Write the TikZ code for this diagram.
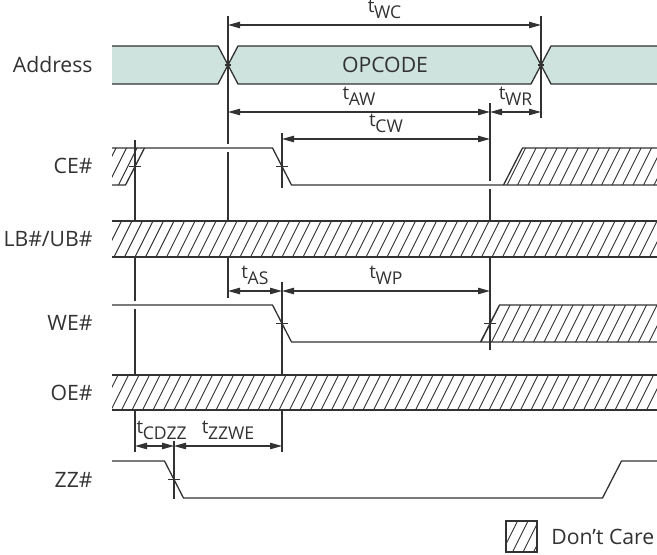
\documentclass[tikz,border=0pt]{standalone}
\usepackage{fontspec}
\setmainfont{Open Sans}
\usepackage{tikz}
\usetikzlibrary{arrows.meta}
\definecolor{busfill}{RGB}{206,226,222}
\definecolor{ink}{RGB}{50,50,50}
\newcommand{\tsub}[1]{t\kern-0.2pt\raisebox{-0.55ex}{\fontsize{8.8}{9}\selectfont #1}}
\newcommand{\hatchin}[1]{%
  \begin{scope}
    \clip #1;
    \foreach \x in {-300,-289.5,...,660} \draw[hatchline] (\x,560) -- ++(280,-560);
  \end{scope}}

\begin{document}
\begin{tikzpicture}[x=0.5pt, y=-0.5pt,
  sig/.style={ink, line width=0.65pt},
  hatchline/.style={ink, line width=0.45pt},
  marker/.style={ink, line width=0.55pt},
  dim/.style={ink, line width=0.55pt, {Triangle[length=6pt,width=3.2pt]}-{Triangle[length=6pt,width=3.2pt]}},
  siglabel/.style={anchor=east, font=\fontsize{10.6}{12}\selectfont, text=ink, inner sep=0pt},
  tlabel/.style={font=\fontsize{9.4}{10}\selectfont, text=ink, inner sep=0pt}]
  \useasboundingbox (0,0) rectangle (657,555);

  % signal names
  \node[siglabel] (addrLbl) at (93,65) {Address};
  \node[siglabel] (ceLbl) at (93,166) {CE\#};
  \node[siglabel] (lbLbl) at (93,239) {LB\#/UB\#};
  \node[siglabel] (weLbl) at (93,323) {WE\#};
  \node[siglabel] (oeLbl) at (93,393) {OE\#};
  \node[siglabel] (zzLbl) at (93,480) {ZZ\#};

  % time markers (split where a signal crosses)
  \draw[marker] (135,140) -- (135,221) (135,257) -- (135,301) (135,309) -- (135,375) (135,410) -- (135,452);
  \draw[marker] (228,16) -- (228,144) (228,152) -- (228,221) (228,257) -- (228,298);
  \draw[marker] (282,133) -- (282,188) (282,282) -- (282,375) (282,410) -- (282,452);
  \draw[marker] (490,103) -- (490,181) (490,189) -- (490,221) (490,257) -- (490,350);
  \draw[marker] (541,16) -- (541,118);
  \draw[marker] (174,441) -- (174,499);

  % Address bus
  \fill[busfill] (112,46) -- (218,46) -- (228,65) -- (218,84) -- (112,84) -- cycle;
  \draw[sig] (112,46) -- (218,46) -- (228,65) -- (218,84) -- (112,84);
  \filldraw[sig, fill=busfill] (238,46) -- (531,46) -- (541,65) -- (531,84) -- (238,84) -- (228,65) -- cycle;
  \fill[busfill] (657,46) -- (551,46) -- (541,65) -- (551,84) -- (657,84) -- cycle;
  \draw[sig] (657,46) -- (551,46) -- (541,65) -- (551,84) -- (657,84);
  \node[font=\fontsize{10.6}{12}\selectfont, text=ink] (opcode) at (385,65) {OPCODE};

  % CE#
  \hatchin{(112,148) -- (144.5,148) -- (125.5,185) -- (112,185) -- cycle}
  \hatchin{(503.5,185) -- (522.5,148) -- (657,148) -- (657,185) -- cycle}
  \draw[sig] (112,185) -- (125.5,185) -- (144.5,148);
  \draw[sig] (112,148) -- (272.5,148) -- (291.5,185) -- (657,185);
  \draw[sig] (503.5,185) -- (522.5,148) -- (657,148);

  % LB#/UB#
  \fill[white] (112,221) rectangle (657,257);
  \hatchin{(112,221) rectangle (657,257)}
  \draw[sig] (112,221) -- (657,221) (112,257) -- (657,257);

  % WE#
  \hatchin{(480.5,342) -- (499.5,305) -- (657,305) -- (657,342) -- cycle}
  \draw[sig] (112,305) -- (272.5,305) -- (291.5,342) -- (657,342);
  \draw[sig] (480.5,342) -- (499.5,305) -- (657,305);

  % OE#
  \fill[white] (112,375) rectangle (657,410);
  \hatchin{(112,375) rectangle (657,410)}
  \draw[sig] (112,375) -- (657,375) (112,410) -- (657,410);

  % ZZ#
  \draw[sig] (112,461) -- (164.5,461) -- (183.5,498) -- (602.5,498) -- (621.5,461) -- (657,461);

  % crossing ticks
  \foreach \tx/\ty in {135/166.5, 282/166.5, 282/323.5, 490/323.5, 174/479.5}
    \draw[marker] (\tx-6,\ty) -- (\tx+6,\ty);
  \foreach \tx in {228, 541}
    \draw[marker] (\tx-3,65) -- (\tx+3,65);

  % timing parameters
  \coordinate (wcA) at (228,25);  \coordinate (wcB) at (541,25);
  \coordinate (awA) at (228,112); \coordinate (awB) at (490,112);
  \coordinate (wrB) at (541,112);
  \coordinate (cwA) at (282,139); \coordinate (cwB) at (490,139);
  \coordinate (asA) at (228,291); \coordinate (asB) at (282,291);
  \coordinate (wpB) at (490,291);
  \coordinate (cdA) at (135,446); \coordinate (cdB) at (174,446);
  \coordinate (zwB) at (282,446);

  \draw[dim] (wcA) -- (wcB) node[tlabel, midway, above=3pt] (twc) {\tsub{WC}};
  \draw[dim] (awA) -- (awB) node[tlabel, midway, above=3pt] (taw) {\tsub{AW}};
  \draw[dim] (awB) -- (wrB) node[tlabel, midway, above=3pt] (twr) {\tsub{WR}};
  \draw[dim] (cwA) -- (cwB) node[tlabel, midway, above=3pt] (tcw) {\tsub{CW}};
  \draw[dim] (asA) -- (asB) node[tlabel, midway, above=3pt] (tas) {\tsub{AS}};
  \draw[dim] (asB) -- (wpB) node[tlabel, midway, above=3pt] (twp) {\tsub{WP}};
  \draw[dim] (cdA) -- (cdB) node[tlabel, above=3pt, anchor=south west] at (136,446) (tcd) {\tsub{CDZZ}};
  \draw[dim] (cdB) -- (zwB) node[tlabel, midway, above=3pt] (tzw) {\tsub{ZZWE}};

  % legend
  \hatchin{(506,521) rectangle (537,552)}
  \draw[sig] (506,521) rectangle (537,552);
  \node[anchor=west, font=\fontsize{10.6}{12}\selectfont, text=ink, inner sep=0pt] (dcLbl) at (551,537) {Don’t Care};
\end{tikzpicture}
\end{document}
